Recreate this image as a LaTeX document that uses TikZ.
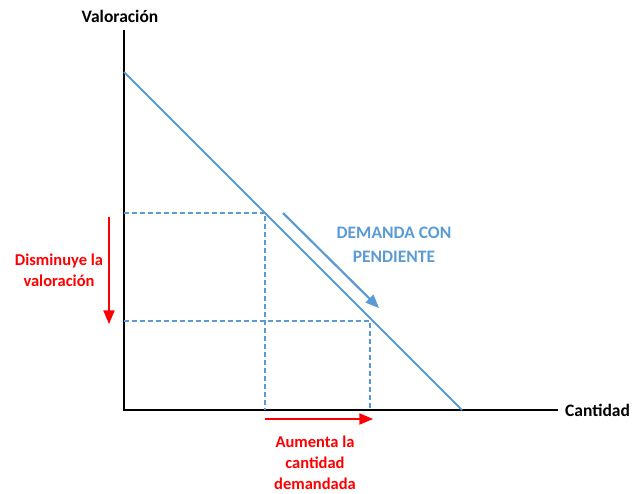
\documentclass[tikz,border=0pt]{standalone}
\usepackage{fontspec}
\setmainfont{Carlito}
\usepackage{tikz}
\usetikzlibrary{calc, arrows, positioning}
\definecolor{dblue}{RGB}{91,155,213}
\definecolor{dred}{RGB}{255,0,0}
\tikzstyle{axis}      = [line width=2pt, black]
\tikzstyle{demand}    = [line width=2pt, dblue]
\tikzstyle{guide}     = [line width=1.5pt, dblue, dash pattern=on 5pt off 3pt]
\tikzstyle{arrow}     = [line width=2.2pt,->,>=triangle 45]
\tikzstyle{lbl}       = [font=\bfseries\fontsize{16.5}{21}\selectfont, align=center, inner sep=0pt]

\begin{document}
\begin{tikzpicture}[x=1pt, y=-1pt]
      \useasboundingbox (0,0) rectangle (640,493);

      \coordinate (O)    at (124,410);
      \coordinate (ytop) at (124,30);
      \coordinate (xend) at (558,410);
      \coordinate (D1)   at (124,72);
      \coordinate (D2)   at (462,410);
      \coordinate (A)    at (265,213);
      \coordinate (B)    at (370,321);

      % axes
      \draw [axis] (ytop) -- (O) -- (xend);
      \node (yl) [lbl, text=black, font=\bfseries\fontsize{17.5}{21}\selectfont] at (120,16) {Valoración};
      \node (xl) [lbl, text=black, font=\bfseries\fontsize{17.5}{21}\selectfont, right=7pt of xend] {Cantidad};

      % demand curve and guides
      \draw [demand] (D1) -- (D2);
      \draw [guide] (O |- A) -- (A) -- (A |- O);
      \draw [guide] (O |- B) -- (B) -- (B |- O);

      \coordinate (s1) at (283,213);
      \coordinate (s2) at (379,308);
      \draw [arrow, dblue] (s1) -- (s2);
      \node (dem) [lbl, text=dblue, font=\bfseries\fontsize{17.5}{24}\selectfont] at (394,245) {DEMANDA CON\\PENDIENTE};

      % red arrows
      \coordinate (v1) at (109,217);
      \coordinate (v2) at (109,324);
      \draw [arrow, dred] (v1) -- (v2);
      \node (val) [lbl, text=dred] at (59,270) {Disminuye la\\valoración};

      \coordinate (h1) at (265,419);
      \coordinate (h2) at (373,419);
      \draw [arrow, dred] (h1) -- (h2);
      \node (cant) [lbl, text=dred] at (315,463) {Aumenta la\\cantidad\\demandada};
    \end{tikzpicture}
\end{document}
